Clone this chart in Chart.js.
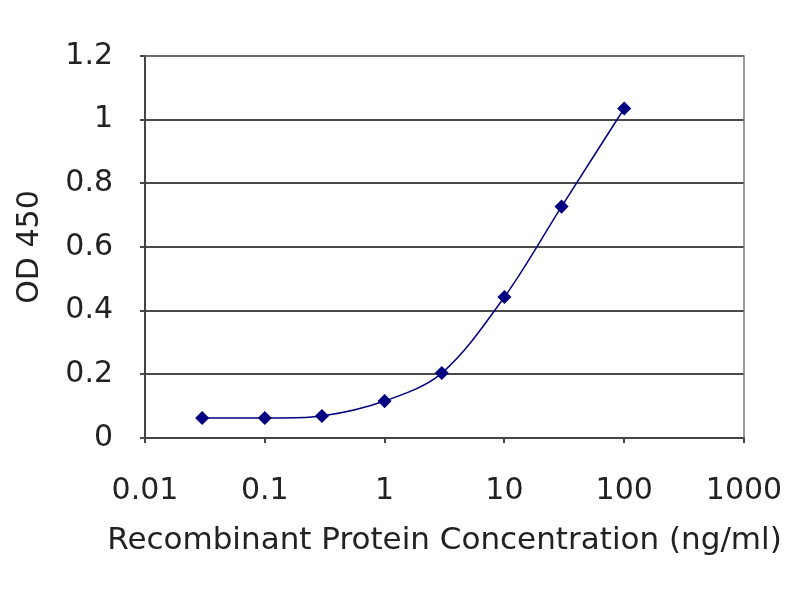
<!DOCTYPE html>
<html>
<head>
<meta charset="utf-8">
<script src="https://cdn.jsdelivr.net/npm/chart.js@4"></script>
<style>
  html, body { margin: 0; padding: 0; background: #fff; }
  #wrap { width: 800px; height: 600px; }
</style>
</head>
<body>
<div id="wrap"><canvas id="chart" width="800" height="600"></canvas></div>
<script>
// Concentration (ng/ml) vs OD 450
const concentrations = [0.03, 0.1, 0.3, 1, 3, 10, 30, 100];
const od450 = [0.063, 0.063, 0.069, 0.116, 0.204, 0.443, 0.727, 1.035];
const xTicks = [0.01, 0.1, 1, 10, 100, 1000];
const xTickLabels = ["0.01", "0.1", "1", "10", "100", "1000"];
const yTickLabels = ["0", "0.2", "0.4", "0.6", "0.8", "1", "1.2"];
const xTitle = "Recombinant Protein Concentration (ng/ml)";

const FONT = "'DejaVu Sans', 'Liberation Sans', sans-serif";
const NAVY = "#000080";

// Excel-style plot box, plus the x title (the axis title would get squeezed to the
// chart-area width, and in the reference it runs wider than the plot)
const plotFrame = {
  id: "plotFrame",
  afterDatasetsDraw(chart) {
    const { ctx, chartArea: a } = chart;
    ctx.save();
    ctx.strokeStyle = "#7a7a7a";
    ctx.lineWidth = 1.5;
    ctx.beginPath();
    ctx.moveTo(a.left, a.top);
    ctx.lineTo(a.right, a.top);
    ctx.lineTo(a.right, a.bottom);
    ctx.stroke();
    ctx.restore();
  },
  afterDraw(chart) {
    const { ctx, chartArea: a } = chart;
    ctx.save();
    ctx.fillStyle = "#222";
    ctx.font = "31px " + FONT;
    ctx.textAlign = "center";
    ctx.textBaseline = "middle";
    ctx.fillText(xTitle, (a.left + a.right) / 2, a.bottom + 103);
    ctx.restore();
  },
};

new Chart(document.getElementById("chart"), {
  type: "line",
  data: {
    datasets: [{
      data: concentrations.map((x, i) => ({ x, y: od450[i] })),
      borderColor: NAVY,
      borderWidth: 1.5,
      tension: 0.33,
      pointStyle: "rectRot",
      pointRadius: 6,
      pointBackgroundColor: NAVY,
      pointBorderColor: NAVY,
    }],
  },
  options: {
    responsive: false,
    animation: false,
    layout: { padding: { top: 56, right: 56, left: 0, bottom: 0 } },
    plugins: { legend: { display: false }, tooltip: { enabled: false } },
    scales: {
      x: {
        type: "logarithmic",
        min: 0.01, max: 1000,
        afterBuildTicks: (s) => { s.ticks = xTicks.map((v) => ({ value: v })); },
        afterFit: (s) => { s.height = 162; s.paddingLeft = 0; s.paddingRight = 0; },
        ticks: {
          autoSkip: false, maxRotation: 0,
          padding: 30,
          color: "#222",
          font: { family: FONT, size: 30 },
          callback: (v) => xTickLabels[xTicks.indexOf(v)] ?? "",
        },
        grid: { drawOnChartArea: false, drawTicks: true, tickLength: 5, color: "#444", lineWidth: 2 },
        border: { color: "#444", width: 2 },
      },
      y: {
        min: 0, max: 1.2,
        afterFit: (s) => { s.width = 145; s.paddingTop = 0; s.paddingBottom = 0; },
        ticks: {
          stepSize: 0.2,
          padding: 27,
          color: "#222",
          font: { family: FONT, size: 30 },
          callback: (v) => yTickLabels[Math.round(v / 0.2)] ?? "",
        },
        grid: { color: "#4a4a4a", lineWidth: 2, tickLength: 5 },
        border: { color: "#444", width: 2 },
        title: {
          display: true,
          text: "OD 450",
          color: "#222",
          font: { family: FONT, size: 30 },
          padding: { top: 12 },
        },
      },
    },
  },
  plugins: [plotFrame],
});
</script>
</body>
</html>
